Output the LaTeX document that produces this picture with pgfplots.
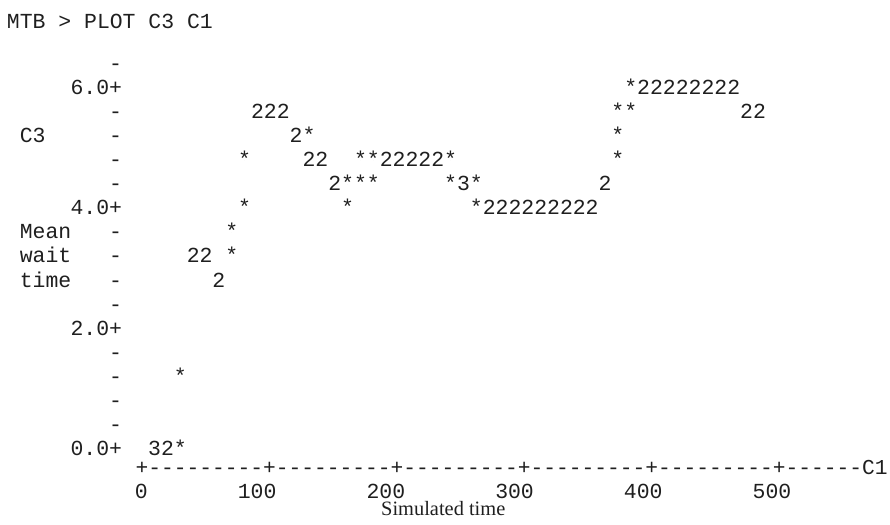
\documentclass[border=0pt]{standalone}
\usepackage{pgfplots}
\usepackage{pgfplotstable}
\pgfplotsset{compat=1.18}
\usepackage{fontspec}
\setmainfont{Liberation Serif}
\setmonofont{Liberation Mono}
\newcommand\mt{\fontsize{10.72pt}{12pt}\selectfont\ttfamily}
\newcommand\mtaxis{\fontsize{10.62pt}{12pt}\selectfont\ttfamily}
\definecolor{ink}{HTML}{1F1F1F}

% character-plot cells: x (C1), y (C3), character printed by Minitab
\pgfplotstableread{
x y c
10 0.0 3
20 0.0 2
30 0.0 *
30 1.2 *
60 2.8 2
40 3.2 2
50 3.2 2
70 3.2 *
70 3.6 *
80 4.0 *
160 4.0 *
260 4.0 *
270 4.0 2
280 4.0 2
290 4.0 2
300 4.0 2
310 4.0 2
320 4.0 2
330 4.0 2
340 4.0 2
350 4.0 2
150 4.4 2
160 4.4 *
170 4.4 *
180 4.4 *
240 4.4 *
250 4.4 3
260 4.4 *
360 4.4 2
80 4.8 *
130 4.8 2
140 4.8 2
170 4.8 *
180 4.8 *
190 4.8 2
200 4.8 2
210 4.8 2
220 4.8 2
230 4.8 2
240 4.8 *
370 4.8 *
120 5.2 2
130 5.2 *
370 5.2 *
90 5.6 2
100 5.6 2
110 5.6 2
370 5.6 *
380 5.6 *
470 5.6 2
480 5.6 2
380 6.0 *
390 6.0 2
400 6.0 2
410 6.0 2
420 6.0 2
430 6.0 2
440 6.0 2
450 6.0 2
460 6.0 2
}\pts

\begin{document}
\begin{tikzpicture}
\begin{axis}[
  name=ax, at={(0,0)}, anchor=south west,
  scale only axis, width=382.9pt, height=208.3pt,
  xmin=-15, xmax=580, ymin=-0.32, ymax=6.6,
  clip=false,
  axis line style={draw=none},
  tick style={draw=none}, major tick length=0pt,
  xtick={0,100,200,300,400,500},
  xticklabels={0,100,200,300,400,500},
  ytick={0,0.4,0.8,1.2,1.6,2,2.4,2.8,3.2,3.6,4,4.4,4.8,5.2,5.6,6,6.4},
  yticklabels={0.0+,-,-,-,-,2.0+,-,-,-,-,4.0+,-,-,-,-,6.0+,-},
  yticklabel style={anchor=base east, inner sep=0pt, yshift=-3.3pt, font=\mt, text=ink},
  xticklabel style={anchor=base east, inner sep=0pt, xshift=3.2175pt, yshift=-15.15pt, font=\mt, text=ink},
]
\addplot[only marks, mark=*, mark size=0pt, mark options={draw=none, fill=none},
  nodes near coords, point meta=explicit symbolic,
  nodes near coords style={anchor=base, inner sep=0pt, yshift=-3.3pt, font=\mt, text=ink}]
  table[x=x, y=y, meta=c] {\pts};

\node[anchor=base west, inner sep=0pt, yshift=-3.3pt, font=\mtaxis, text=ink]
  at (axis cs:-5,-0.316) {+---------+---------+---------+---------+---------+------C1};
\node[anchor=base west, inner sep=0pt, yshift=-3.3pt, font=\mt, text=ink]
  at (axis cs:-105,7.09) {MTB > PLOT C3 C1};
\node[anchor=base west, inner sep=0pt, yshift=-3.3pt, font=\mt, text=ink]
  at (axis cs:-95,5.2) {C3};
\node[anchor=base west, inner sep=0pt, yshift=-3.3pt, font=\mt, text=ink]
  at (axis cs:-95,3.6) {Mean};
\node[anchor=base west, inner sep=0pt, yshift=-3.3pt, font=\mt, text=ink]
  at (axis cs:-95,3.2) {wait};
\node[anchor=base west, inner sep=0pt, yshift=-3.3pt, font=\mt, text=ink]
  at (axis cs:-95,2.8) {time};
\node[anchor=base, inner sep=0pt, font=\fontsize{10.2pt}{12pt}\selectfont\rmfamily, text=ink]
  at (axis cs:234.3,-1.1) {Simulated time};
\end{axis}
\pgfresetboundingbox
\path[use as bounding box] (-61.2pt,-28.35pt) rectangle (383.8pt,234.15pt);
\end{tikzpicture}
\end{document}
